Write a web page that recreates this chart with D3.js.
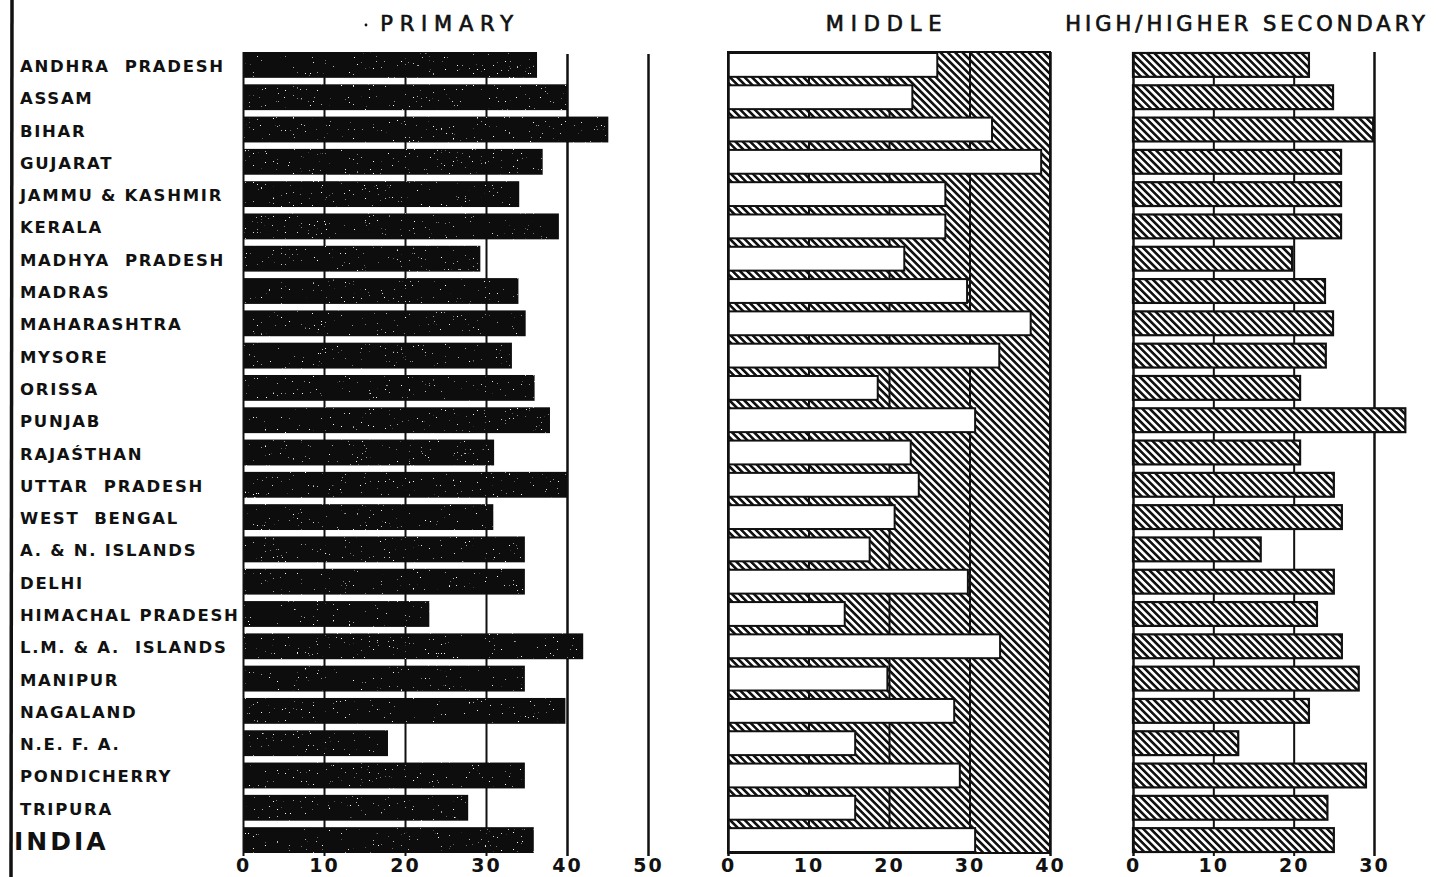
<!DOCTYPE html>
<html>
<head>
<meta charset="utf-8">
<script src="https://cdn.jsdelivr.net/npm/d3@7"></script>
<style>
  html, body { margin: 0; padding: 0; background: #fff; }
  svg { display: block; }
  text { font-family: "DejaVu Sans", sans-serif; font-weight: bold; fill: #111; }
</style>
</head>
<body>
<div id="chart"></div>
<script>
// --- Data ---
const states = [
  "ANDHRA  PRADESH", "ASSAM", "BIHAR", "GUJARAT", "JAMMU & KASHMIR", "KERALA",
  "MADHYA  PRADESH", "MADRAS", "MAHARASHTRA", "MYSORE", "ORISSA", "PUNJAB",
  "RAJAŚTHAN", "UTTAR  PRADESH", "WEST  BENGAL", "A. & N. ISLANDS", "DELHI",
  "HIMACHAL PRADESH", "L.M. & A.  ISLANDS", "MANIPUR", "NAGALAND", "N.E. F. A.",
  "PONDICHERRY", "TRIPURA", "INDIA"
];
const primary = [36.3, 40.1, 45.1, 37, 34.1, 39, 29.3, 34, 34.9, 33.2, 36, 37.9,
  31, 40, 30.9, 34.8, 34.8, 23, 42, 34.8, 39.8, 17.9, 34.8, 27.8, 35.9];
const middle = [26, 22.9, 32.8, 38.9, 27, 27, 21.9, 29.7, 37.6, 33.7, 18.6, 30.7,
  22.7, 23.7, 20.7, 17.6, 29.8, 14.5, 33.8, 19.8, 28.1, 15.8, 28.8, 15.8, 30.7];
const high = [21.9, 24.9, 29.9, 25.9, 25.9, 25.9, 19.8, 23.9, 24.9, 24, 20.8, 33.9,
  20.8, 25, 26, 15.9, 25, 22.9, 26, 28.1, 21.9, 13.1, 29, 24.2, 25];

const primaryTicks = [0, 10, 20, 30, 40, 50];
const middleTicks = [0, 10, 20, 30, 40];
const highTicks = [0, 10, 20, 30];
const titles = ["PRIMARY", "MIDDLE", "HIGH/HIGHER SECONDARY"];

// --- Setup ---
const width = 1438, height = 877;
const topY = 52, bottomY = 853, gridBottom = 856;

const svg = d3.select("#chart").append("svg")
  .attr("width", width)
  .attr("height", height);

const defs = svg.append("defs");
defs.append("pattern")
  .attr("id", "hatch")
  .attr("patternUnits", "userSpaceOnUse")
  .attr("width", 5.2)
  .attr("height", 5.2)
  .attr("patternTransform", "rotate(45)")
  .call(p => {
    p.append("rect").attr("width", 5.2).attr("height", 5.2).attr("fill", "#fff");
    p.append("rect").attr("width", 5.2).attr("height", 2.6).attr("fill", "#111");
  });

// light white speckle on the solid primary bars (print texture)
const speckle = defs.append("filter").attr("id", "speckle");
speckle.append("feTurbulence")
  .attr("type", "fractalNoise").attr("baseFrequency", 0.75)
  .attr("numOctaves", 1).attr("seed", 7).attr("result", "noise");
speckle.append("feColorMatrix")
  .attr("in", "noise").attr("type", "matrix")
  .attr("values", "0 0 0 0 1  0 0 0 0 1  0 0 0 0 1  18 0 0 0 -12.9")
  .attr("result", "dots");
speckle.append("feComposite")
  .attr("in", "dots").attr("in2", "SourceGraphic").attr("operator", "in")
  .attr("result", "dotsIn");
speckle.append("feMerge").call(m => {
  m.append("feMergeNode").attr("in", "SourceGraphic");
  m.append("feMergeNode").attr("in", "dotsIn");
});

const y = d3.scaleBand()
  .domain(states)
  .range([topY, bottomY])
  .paddingInner(0.2)
  .paddingOuter(0);

const xP = d3.scaleLinear().domain([0, 50]).range([243, 648]);
const xM = d3.scaleLinear().domain([0, 40]).range([728, 1050]);
const xH = d3.scaleLinear().domain([0, 30]).range([1133, 1374]);

// left border rule
svg.append("line")
  .attr("x1", 12).attr("x2", 11)
  .attr("y1", 0).attr("y2", height)
  .attr("stroke", "#111").attr("stroke-width", 3.5);

// --- State labels ---
svg.append("g").selectAll("text")
  .data(states)
  .enter()
  .append("text")
  .attr("x", d => d === "INDIA" ? 14 : 20)
  .attr("y", d => y(d) + y.bandwidth() / 2 + (d === "INDIA" ? 10 : 7))
  .style("font-size", d => d === "INDIA" ? "25px" : "16.5px")
  .style("letter-spacing", d => d === "INDIA" ? "3px" : "1.7px")
  .style("white-space", "pre")
  .text(d => d);

// helper: gridlines through the axis generator
function grid(x, ticks, y1, y2, sw) {
  const g = svg.append("g").attr("transform", `translate(0,${y2})`);
  g.call(d3.axisBottom(x).tickValues(ticks).tickSize(-(y2 - y1)).tickFormat(""));
  g.select(".domain").remove();
  g.selectAll("line").attr("stroke", "#111").attr("stroke-width", sw);
  return g;
}

function tickLabels(x, ticks) {
  const g = svg.append("g").attr("transform", `translate(0,872)`);
  g.call(d3.axisBottom(x).tickValues(ticks).tickSize(0).tickPadding(0));
  g.select(".domain").remove();
  g.selectAll("text")
    .attr("dy", 0)
    .style("font-size", "19px")
    .style("letter-spacing", "2px")
    .style("font-family", "'DejaVu Sans', sans-serif")
    .attr("fill", "#111");
}

// --- PRIMARY ---
grid(xP, [10, 20, 30], topY, gridBottom, 2);
grid(xP, [40, 50], topY + 2, gridBottom, 2.5);
svg.append("g").selectAll("rect")
  .data(primary)
  .enter()
  .append("rect")
  .attr("x", xP(0))
  .attr("y", (d, i) => y(states[i]))
  .attr("width", d => xP(d) - xP(0))
  .attr("height", y.bandwidth())
  .attr("fill", "#0d0d0d")
  .attr("filter", "url(#speckle)");
grid(xP, [0], topY, gridBottom, 2);
tickLabels(xP, primaryTicks);

// --- MIDDLE ---
svg.append("rect")
  .attr("x", xM(0))
  .attr("y", topY)
  .attr("width", xM(40) - xM(0))
  .attr("height", bottomY - topY)
  .attr("fill", "url(#hatch)")
  .attr("stroke", "#111")
  .attr("stroke-width", 2);
grid(xM, [10, 20, 30], topY, bottomY, 2);
svg.append("g").selectAll("rect")
  .data(middle)
  .enter()
  .append("rect")
  .attr("x", xM(0))
  .attr("y", (d, i) => y(states[i]) + 1)
  .attr("width", d => xM(d) - xM(0))
  .attr("height", y.bandwidth() - 2)
  .attr("fill", "#fff")
  .attr("stroke", "#111")
  .attr("stroke-width", 2);
grid(xM, [0, 40], topY, gridBottom, 2.5);
tickLabels(xM, middleTicks);

// --- HIGH / HIGHER SECONDARY ---
grid(xH, [10, 20], topY, gridBottom, 2);
grid(xH, [30], topY, gridBottom, 2.5);
svg.append("g").selectAll("rect")
  .data(high)
  .enter()
  .append("rect")
  .attr("x", xH(0))
  .attr("y", (d, i) => y(states[i]) + 1)
  .attr("width", d => xH(d) - xH(0))
  .attr("height", y.bandwidth() - 2)
  .attr("fill", "url(#hatch)")
  .attr("stroke", "#111")
  .attr("stroke-width", 2.2);
grid(xH, [0], topY, gridBottom, 2.5);
tickLabels(xH, highTicks);

// --- Titles ---
const titleX = [450, 887, 1247];
svg.append("g").selectAll("text")
  .data(titles)
  .enter()
  .append("text")
  .attr("x", (d, i) => titleX[i])
  .attr("y", 31)
  .attr("text-anchor", "middle")
  .style("font-size", "21px")
  .style("font-weight", "normal")
  .style("letter-spacing", (d, i) => i === 2 ? "4px" : "6.8px")
  .style("stroke", "#111")
  .style("stroke-width", 0.7)
  .text(d => d);
svg.append("circle").attr("cx", 366).attr("cy", 25).attr("r", 1.4).attr("fill", "#111");
</script>
</body>
</html>
